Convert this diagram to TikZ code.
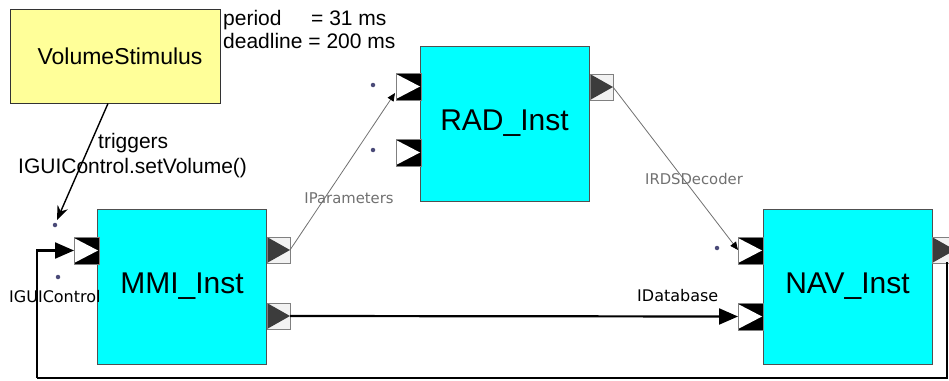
\documentclass[tikz,border=0pt]{standalone}
\usepackage{fontspec}
\setmainfont{Liberation Sans}
\newfontfamily\ifacefont{DejaVu Sans}
\usetikzlibrary{arrows.meta,calc}

\definecolor{compfill}{HTML}{00FFFF}
\definecolor{compedge}{HTML}{505050}
\definecolor{stimfill}{HTML}{FFFF99}
\definecolor{portdark}{HTML}{3C3C3C}
\definecolor{dotcol}{HTML}{4A4A78}
\definecolor{ifacegrey}{HTML}{707070}

\tikzset{
  comp/.style={draw=compedge, line width=1pt, fill=compfill, minimum width=169pt,
               minimum height=155pt, inner sep=0pt, font=\fontsize{30}{34}\selectfont},
  stim/.style={draw=black!80, line width=1pt, fill=stimfill, minimum width=210pt,
               minimum height=94pt, inner sep=0pt, font=\fontsize{23}{27}\selectfont},
  note/.style={anchor=base west, inner sep=0pt, font=\fontsize{21}{25}\selectfont},
  iface/.style={inner sep=0pt, font=\ifacefont\fontsize{16}{19}\selectfont},
  ifacethin/.style={inner sep=0pt, text=ifacegrey, font=\ifacefont\fontsize{14.8}{17}\selectfont},
  bus/.style={line width=2.2pt, -{Triangle[length=19pt,width=16pt]}},
  wire/.style={draw=ifacegrey, line width=0.8pt, -{Triangle[length=8pt,width=7pt,color=black]}},
  trig/.style={line width=1.4pt, -{Stealth[length=14pt,width=11pt]}},
  portdot/.style={circle, fill=dotcol, inner sep=0pt, minimum size=4.5pt},
  inport/.pic={
    \fill[black] (0,0) rectangle (25,27);
    \fill[white] (0,1) -- (24,13.5) -- (0,26) -- cycle;
    \draw[gray, line width=0.8pt] (0,0) rectangle (25,27);
  },
  outport/.pic={
    \fill[white!95!black] (0,0) rectangle (23,26);
    \fill[portdark] (0,0) -- (23,13) -- (0,26) -- cycle;
    \draw[gray, line width=0.8pt] (0,0) rectangle (23,26);
  }
}

\begin{document}
\begin{tikzpicture}[x=1pt, y=-1pt]
  \useasboundingbox (0,0) rectangle (949,380);
  \begin{scope}
  \clip (0,0) rectangle (949,380);

  % stimulus block and its timing note
  \node[stim] (stim) at (115,56) {\hspace*{10pt}VolumeStimulus};
  \node[note] (period) at (223,25) {period};
  \node[note] (periodval) at (311,25) {= 31 ms};
  \node[note] (deadline) at (223,48) {deadline = 200 ms};

  % component instances
  \node[comp] (mmi) at (182,286.5) {MMI\_Inst};
  \node[comp] (rad) at (504.5,123.5) {RAD\_Inst};
  \node[comp] (nav) at (847.5,286.5) {NAV\_Inst};

  % ports
  \pic at (74,237) {inport};
  \pic at (267,237) {outport};
  \pic at (267,303) {outport};
  \pic at (396,73) {inport};
  \pic at (396,139) {inport};
  \pic at (590,74) {outport};
  \pic at (738,237) {inport};
  \pic at (738,303) {inport};
  \pic at (932,237) {outport};

  % unconnected port markers
  \node[portdot] (d1) at (55,225) {};
  \node[portdot] (d2) at (58,277) {};
  \node[portdot] (d3) at (373,85) {};
  \node[portdot] (d4) at (373,150) {};
  \node[portdot] (d5) at (717,248) {};

  % connection points on the ports
  \coordinate (mmiIn)   at (74,250.5);
  \coordinate (mmiOut1) at (290,250);
  \coordinate (mmiOut2) at (290,316);
  \coordinate (radIn1)  at (395,93);
  \coordinate (radOut)  at (613,87);
  \coordinate (navIn1)  at (738,250);
  \coordinate (navIn2)  at (738,316.5);
  \coordinate (navOut)  at (947,262);
  \coordinate (loopBL)  at (37,378);
  \coordinate (trigEnd) at (57,220);

  % connectors
  \draw[trig] ($(stim.south)+(-7,0)$) -- (trigEnd);
  \draw[wire] (mmiOut1) -- (radIn1);
  \draw[wire] (radOut) -- (navIn1);
  \draw[bus] (mmiOut2) -- (navIn2);
  \draw[line width=2.2pt] (navOut) |- (loopBL);
  \draw[bus] (loopBL) |- (mmiIn);

  % labels
  \node[note] (trigA) at (98,148) {triggers};
  \node[note] (trigB) at (18,173) {IGUIControl.setVolume()};
  \node[iface, anchor=base west] (lgui) at (9,302) {IGUIControl};
  \node[iface, anchor=base west] (ldb) at (637,301) {IDatabase};
  \node[ifacethin] (lpar) at (349,198) {IParameters};
  \node[ifacethin] (lrds) at (694,179) {IRDSDecoder};
  \end{scope}
\end{tikzpicture}
\end{document}
